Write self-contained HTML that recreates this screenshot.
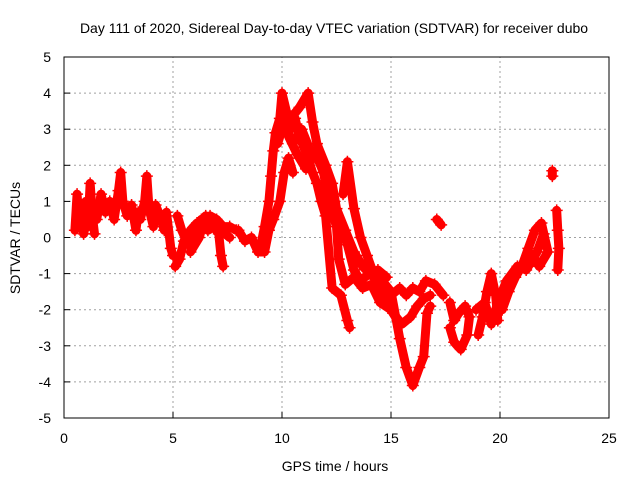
<!DOCTYPE html>
<html><head><meta charset="utf-8"><style>
body{margin:0;background:#fff;}
svg{display:block;font-family:"Liberation Sans",sans-serif;}
</style></head><body>
<svg id="chart" width="640" height="480">
<text x="334" y="33" font-size="14" text-anchor="middle">Day 111 of 2020, Sidereal Day-to-day VTEC variation (SDTVAR) for receiver dubo</text>
<text x="335" y="471" font-size="14" text-anchor="middle">GPS time / hours</text>
<text transform="translate(20,238) rotate(-90)" font-size="14" text-anchor="middle">SDTVAR / TECUs</text>
<g id="grid"></g><g id="marks"></g><g id="axes"></g>
</svg>
<script>
const xTicks=[0,5,10,15,20,25];
const yTicks=[-5,-4,-3,-2,-1,0,1,2,3,4,5];
const track1=[[0.5,0.2],[0.6,1.2],[0.7,0.3],[0.8,0.9],[0.9,0.1],[1.0,1.0],[1.1,0.3],[1.2,1.5],[1.3,0.6],[1.4,0.1]];
const track2=[[1.5,0.5],[1.7,1.2],[1.9,0.7],[2.1,1.0],[2.3,0.5],[2.5,1.3],[2.6,1.8],[2.7,1.0],[2.9,0.6],[3.1,0.9],[3.3,0.2],[3.4,0.7]];
const track3=[[3.5,0.5],[3.7,1.0],[3.8,1.7],[3.9,0.8],[4.1,0.3],[4.2,0.9],[4.4,0.6],[4.6,0.2],[4.7,0.7],[4.9,-0.3],[5.0,-0.5]];
const track4=[[5.1,-0.8],[5.3,-0.6],[5.5,-0.1],[5.8,0.2],[6.1,0.4],[6.4,0.3],[6.7,0.6],[7.0,0.5],[7.3,0.3],[7.6,0.3],[7.9,0.2]];
const track5=[[5.2,0.6],[5.4,0.2],[5.7,-0.2],[6.0,0.1],[6.3,0.5],[6.6,0.2],[6.9,0.3],[7.1,0.1],[7.2,-0.5],[7.3,-0.8]];
const track6=[[8.0,0.2],[8.3,-0.1],[8.6,0.0],[8.9,-0.4],[9.2,-0.4],[9.4,0.2],[9.6,0.5],[9.9,1.0],[10.1,1.8],[10.3,2.2],[10.5,1.8]];
const track7=[[9.0,-0.3],[9.2,0.3],[9.4,1.0],[9.5,1.7],[9.6,2.4],[9.7,2.9],[9.9,3.3],[10.0,4.0],[10.2,3.5],[10.4,3.0],[10.6,3.3],[10.8,2.8],[11.0,2.5],[11.2,2.2],[11.4,1.8],[11.6,1.5],[11.8,1.0],[12.0,0.6],[12.3,-1.4],[12.7,-1.6],[13.0,-2.3],[13.1,-2.5]];
const track8=[[10.0,3.0],[10.4,3.3],[10.8,3.6],[11.2,4.0],[11.4,3.2],[11.6,2.6],[12.0,2.0],[12.3,1.5],[12.5,0.8],[12.9,0.2],[13.3,-0.4],[13.7,-0.8],[14.2,-1.1],[14.6,-1.2],[15.0,-1.5],[15.4,-2.8],[15.7,-3.6],[16.0,-4.1],[16.3,-3.6],[16.5,-3.3],[16.65,-2.1],[16.8,-1.9]];
const track9=[[12.8,1.2],[13.0,2.1],[13.3,0.8],[13.6,0.0],[13.9,-0.5],[14.2,-1.0],[14.6,-1.6],[15.0,-1.6],[15.4,-1.4],[15.7,-1.6],[16.0,-1.4],[16.3,-1.5],[16.6,-1.2],[17.0,-1.3],[17.4,-1.6]];
const track10=[[14.7,-1.7],[15.1,-2.1],[15.5,-2.4],[15.9,-2.2],[16.2,-1.9],[16.5,-1.7],[16.8,-1.6]];
const track11=[[17.7,-1.8],[17.9,-2.3],[18.1,-2.1],[18.4,-1.9],[18.6,-2.2],[18.5,-2.7],[18.2,-3.1],[17.9,-2.9],[17.7,-2.5]];
const track12=[[19.0,-2.7],[19.2,-2.2],[19.4,-1.5],[19.6,-1.0],[19.8,-1.6],[19.9,-2.3]];
const track13=[[20.1,-2.0],[20.4,-1.5],[20.7,-1.1],[21.0,-0.8],[21.3,-0.3],[21.6,0.2],[21.9,0.4],[22.2,-0.4],[21.8,-0.8],[21.5,-0.5]];
const track14=[[22.6,0.75],[22.65,0.2],[22.7,-0.3],[22.65,-0.9]];
const track15=[[17.1,0.5],[17.3,0.35]];
const track16=[[22.4,1.85],[22.4,1.7]];
const track17=[[9.8,2.6],[10.1,3.2],[10.5,2.6],[10.9,3.0],[11.3,2.4],[11.7,2.1],[12.1,1.6],[12.4,1.0],[12.7,0.3],[13.0,-0.2],[13.3,-0.9],[13.6,-1.2],[14.0,-1.0],[14.4,-0.9],[14.8,-1.1]];
const track18=[[10.3,2.8],[10.7,2.3],[11.1,1.9],[11.5,2.4],[11.9,1.8],[12.2,0.9],[12.5,0.3],[12.6,-0.6],[12.9,-1.3],[13.3,-1.1],[13.7,-1.4],[14.1,-1.3],[14.5,-1.8],[15.0,-2.0],[15.3,-2.3]];
const track19=[[5.8,-0.4],[6.2,0.0],[6.5,0.6],[6.8,0.4],[7.2,0.2],[7.6,0.0]];
const track20=[[18.9,-2.0],[19.3,-1.8],[19.6,-2.4],[19.9,-1.8],[20.3,-1.2],[20.8,-0.8],[21.2,-0.9],[21.7,-0.4],[22.0,0.1]];
const tracks=[track1,track2,track3,track4,track5,track6,track7,track8,track9,track10,track11,track12,track13,track14,track15,track16,track17,track18,track19,track20];
const X0=64,X1=609,Y0=418,Y1=57;
const sx=v=>X0+(v-0)/(25-0)*(X1-X0);
const sy=v=>Y0-(v+5)/10*(Y0-Y1);
const NS="http://www.w3.org/2000/svg";
const grid=document.getElementById('grid'),marks=document.getElementById('marks'),axes=document.getElementById('axes');
function mk(tag,attrs,parent){const e=document.createElementNS(NS,tag);for(const k in attrs)e.setAttribute(k,attrs[k]);parent.appendChild(e);return e;}
xTicks.forEach(t=>{
 if(t>0&&t<25){const g=mk('line',{x1:sx(t),x2:sx(t),y1:Y0,y2:Y1,stroke:'#a0a0a0','stroke-dasharray':'2,3'},grid);
 
 }
 const tk=mk('line',{x1:sx(t),x2:sx(t),y1:Y0,y2:Y0-6,stroke:'#000'},axes);
 
 
 const lb=mk('text',{x:sx(t),y:443,'font-size':14,'text-anchor':'middle'},axes);lb.textContent=t;
 
 
});
yTicks.forEach(t=>{
 if(t>-5&&t<5){const g=mk('line',{x1:X0,x2:X1,y1:sy(t),y2:sy(t),stroke:'#a0a0a0','stroke-dasharray':'2,3'},grid);
 
 }
 const tk=mk('line',{x1:X0,x2:X0+6,y1:sy(t),y2:sy(t),stroke:'#000'},axes);
 
 
 const lb=mk('text',{x:51,y:sy(t)+5,'font-size':14,'text-anchor':'end'},axes);lb.textContent=t;
 
 
});
const fr=mk('rect',{x:X0,y:Y1,width:X1-X0,height:Y0-Y1,fill:'none',stroke:'#000'},axes);


tracks.forEach(tr=>{
 const pl=mk('polyline',{points:tr.map(p=>sx(p[0])+','+sy(p[1])).join(' '),fill:'none',stroke:'#f00','stroke-width':9,'stroke-linejoin':'round','stroke-linecap':'round'},marks);
 
 
 tr.forEach(p=>{
  const m=mk('path',{d:`M${sx(p[0])-6},${sy(p[1])}h12M${sx(p[0])},${sy(p[1])-6}v12`,stroke:'#f00','stroke-width':1.5},marks);
  
  
 });
});
</script>
</body></html>
